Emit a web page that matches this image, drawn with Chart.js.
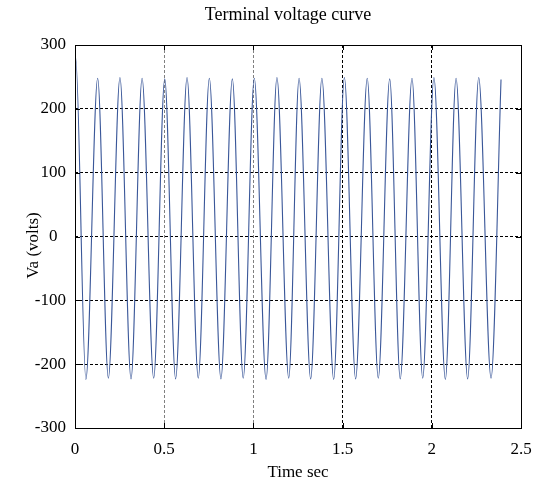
<!DOCTYPE html>
<html>
<head>
<meta charset="utf-8">
<script src="https://cdn.jsdelivr.net/npm/chart.js@4/dist/chart.umd.min.js"></script>
<style>
    body { margin: 0; background: #fff; }
</style>
</head>
<body>
<canvas id="myChart" width="536" height="483"></canvas>
<script>
// values (time in s, voltage in V)
const startTimes = [0, 0.004];
const startValues = [236, 279];
const troughTimes = [0.061, 0.187, 0.314, 0.441, 0.564, 0.691, 0.818, 0.943, 1.071, 1.198, 1.321, 1.450, 1.573, 1.700, 1.823, 1.949, 2.076, 2.201, 2.332];
const troughValues = [-224, -222, -223, -222, -223, -222, -223, -222, -224, -222, -223, -224, -223, -222, -223, -222, -224, -223, -222];
const peakTimes = [0.127, 0.252, 0.376, 0.503, 0.628, 0.753, 0.882, 1.005, 1.132, 1.256, 1.384, 1.510, 1.638, 1.764, 1.889, 2.012, 2.136, 2.263];
const peakValues = [248, 249, 248, 247, 249, 248, 247, 248, 249, 248, 248, 249, 248, 247, 248, 249, 248, 249];
const endTimes = [2.388];
const endValues = [246];

const xTicks = [0, 0.5, 1, 1.5, 2, 2.5];
const yTicks = [-300, -200, -100, 0, 100, 200, 300];

const titleText = 'Terminal voltage curve';
const xTitle = 'Time sec';
const yTitle = 'Va (volts)';

let points = [];
function addPoints(times, values) {
    for (let i = 0; i < times.length; i++) {
        points.push({x: times[i], y: values[i]});
    }
}
addPoints(startTimes, startValues);
addPoints(troughTimes, troughValues);
addPoints(peakTimes, peakValues);
addPoints(endTimes, endValues);
points.sort((a, b) => a.x - b.x);

const serif = '"Liberation Serif", "Times New Roman", serif';

// box, inward tick marks, title and y label
const framePlugin = {
    id: 'frame',
    afterDraw(chart) {
        const ctx = chart.ctx;
        const a = chart.chartArea;
        const xs = chart.scales.x;
        const ys = chart.scales.y;
        ctx.save();
        ctx.strokeStyle = '#000';
        ctx.lineWidth = 1;
        ctx.setLineDash([]);
        ctx.strokeRect(a.left + 0.5, a.top + 0.5, a.right - a.left, a.bottom - a.top);
        ctx.beginPath();
        xTicks.forEach(v => {
            let px = Math.round(xs.getPixelForValue(v)) + 0.5;
            ctx.moveTo(px, a.bottom); ctx.lineTo(px, a.bottom - 5);
            ctx.moveTo(px, a.top); ctx.lineTo(px, a.top + 5);
        });
        yTicks.forEach(v => {
            let py = Math.round(ys.getPixelForValue(v)) + 0.5;
            ctx.moveTo(a.left, py); ctx.lineTo(a.left + 5, py);
            ctx.moveTo(a.right, py); ctx.lineTo(a.right - 5, py);
        });
        ctx.stroke();

        ctx.fillStyle = '#000';
        ctx.textAlign = 'center';
        ctx.textBaseline = 'middle';
        ctx.font = '18px ' + serif;
        ctx.fillText(titleText, 288, 15);
        ctx.font = '17px ' + serif;
        ctx.translate(33.5, 245.5);
        ctx.rotate(-Math.PI / 2);
        ctx.fillText(yTitle, 0, 0);
        ctx.restore();
    }
};

// grid is dotted black, the two first x lines print lighter in the scan; edges are the box
function gridColor(ctx) {
    const v = ctx.tick ? ctx.tick.value : null;
    if (ctx.scale.axis === 'x') {
        if (v === 0 || v === 2.5) return 'rgba(0,0,0,0)';
        if (v === 0.5 || v === 1) return '#808080';
    } else if (v === -300 || v === 300) {
        return 'rgba(0,0,0,0)';
    }
    return '#000';
}

const ctx = document.getElementById('myChart').getContext('2d');

const myChart = new Chart(ctx, {
    type: 'line',
    data: {
        datasets: [{
            data: points,
            borderColor: '#3a5799',
            borderWidth: 1.1,
            pointRadius: 0,
            fill: false,
            cubicInterpolationMode: 'monotone'
        }]
    },
    options: {
        responsive: false,
        animation: false,
        layout: {
            padding: {left: 0, right: 15, top: 45, bottom: 0}
        },
        plugins: {
            legend: {display: false},
            tooltip: {enabled: false}
        },
        scales: {
            x: {
                type: 'linear',
                min: 0,
                max: 2.5,
                afterBuildTicks: axis => { axis.ticks = xTicks.map(v => ({value: v})); },
                afterFit: axis => {
                    axis.height = 55;
                    axis.paddingLeft = 0;
                    axis.paddingRight = 0;
                },
                ticks: {
                    color: '#000',
                    font: {family: serif, size: 17},
                    padding: 11,
                    maxRotation: 0,
                    callback: v => String(v)
                },
                grid: {
                    color: gridColor,
                    lineWidth: 1,
                    drawTicks: false,
                    borderDash: [3, 2]
                },
                border: {display: false, dash: [3, 2]},
                title: {
                    display: true,
                    text: xTitle,
                    color: '#000',
                    font: {family: serif, size: 17},
                    padding: {top: 0, bottom: 0}
                }
            },
            y: {
                min: -300,
                max: 300,
                afterBuildTicks: axis => { axis.ticks = yTicks.map(v => ({value: v})); },
                afterFit: axis => {
                    axis.width = 75;
                    axis.paddingTop = 0;
                    axis.paddingBottom = 0;
                },
                ticks: {
                    color: '#000',
                    font: {family: serif, size: 17},
                    padding: 9,
                    callback: v => v === 0 ? '0\u2002' : String(v)
                },
                grid: {
                    color: gridColor,
                    lineWidth: 1,
                    drawTicks: false,
                    borderDash: [3, 2]
                },
                border: {display: false, dash: [3, 2]}
            }
        }
    },
    plugins: [framePlugin]
});
</script>
</body>
</html>
